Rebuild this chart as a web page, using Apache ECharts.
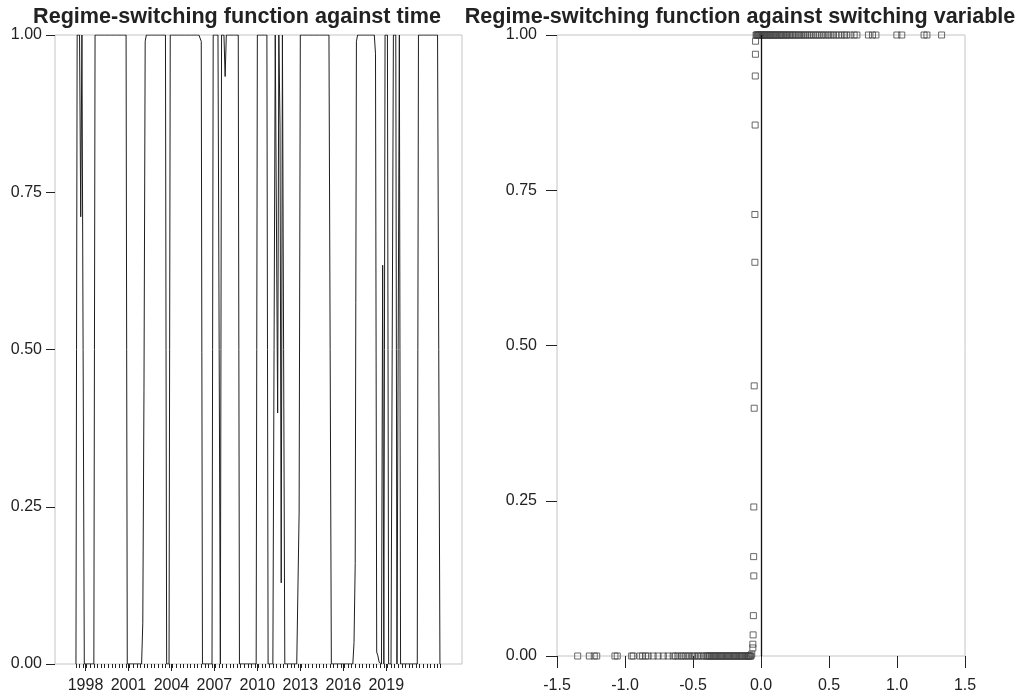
<!DOCTYPE html>
<html>
<head>
<meta charset="utf-8">
<title>Regime-switching function</title>
<script src="https://cdn.jsdelivr.net/npm/echarts@6/dist/echarts.min.js"></script>
<style>
    html, body { margin: 0; padding: 0; background: #fff; }
    #main { width: 1019px; height: 698px; }
</style>
</head>
<body>
<div id="main"></div>
<script>
    // monthly series, first observation 1997M05
    const startYear = 1997;
    const startMonth = 5;

    // regime-switching function G(t), one row per year
    const regimeValues = [
        0, 1, 1, 1, 0.711, 1, 1, 0,                                  // 1997 (May-Dec)
        0, 0, 0, 0, 0, 0, 0, 0, 1, 1, 1, 1,                          // 1998
        1, 1, 1, 1, 1, 1, 1, 1, 1, 1, 1, 1,                          // 1999
        1, 1, 1, 1, 1, 1, 1, 1, 1, 1, 1, 0,                          // 2000
        0, 0, 0, 0, 0, 0, 0, 0, 0, 0, 0, 0,                          // 2001
        0.065, 0.435, 0.99, 1, 1, 1, 1, 1, 1, 1, 1, 1,               // 2002
        1, 1, 1, 1, 1, 1, 1, 1, 0, 0, 0, 1,                          // 2003
        1, 1, 1, 1, 1, 1, 1, 1, 1, 1, 1, 1,                          // 2004
        1, 1, 1, 1, 1, 1, 1, 1, 1, 1, 1, 1,                          // 2005
        1, 0.99, 0, 0, 0, 0, 0, 0, 0, 0, 0, 1,                       // 2006
        1, 1, 1, 1, 1, 0, 1, 1, 1, 0.934, 1, 1,                      // 2007
        1, 1, 1, 1, 1, 1, 1, 1, 1, 0, 0, 0,                          // 2008
        0, 0, 0, 0, 0, 0, 0, 0, 0, 0, 0, 0,                          // 2009
        1, 1, 1, 1, 1, 1, 1, 1, 1, 0, 0, 0,                          // 2010
        0, 0, 0, 1, 1, 0.399, 1, 0.855, 0.129, 1, 1, 0,              // 2011
        0, 0, 0, 0, 0, 0, 0, 0, 0, 0, 0, 0.24,                       // 2012
        1, 1, 1, 1, 1, 1, 1, 1, 1, 1, 1, 1,                          // 2013
        1, 1, 1, 1, 1, 1, 1, 1, 1, 1, 1, 1,                          // 2014
        1, 1, 0, 0, 0, 0, 0, 0, 0, 0, 0, 0,                          // 2015
        0, 0, 0, 0, 0, 0, 0, 0, 0, 0.034, 0.16, 0.99,                // 2016
        1, 1, 1, 1, 1, 1, 1, 1, 1, 1, 1, 1,                          // 2017
        1, 1, 1, 0.97, 0.019, 0.013, 0.003, 0, 0, 0.634, 0, 1,       // 2018
        1, 1, 0, 0, 0, 0, 1, 1, 1, 0, 0, 1,                          // 2019
        0, 0, 0, 0, 0, 0, 0, 0, 0, 0, 0, 0,                          // 2020
        0, 0, 0, 1, 1, 1, 1, 1, 1, 1, 1, 1,                          // 2021
        1, 1, 1, 1, 1, 1, 1, 1, 1, 0                                 // 2022 (Jan-Oct)
    ];

    const yearLabels = [1998, 2001, 2004, 2007, 2010, 2013, 2016, 2019];

    // switching variable vs G, right panel
    const lowRegimeX = [
        -1.348, -1.262, -1.226, -1.208, -1.074, -1.057, -0.951, -0.939,
        -0.890, -0.871, -0.849, -0.830, -0.793, -0.757, -0.718, -0.683,
        -0.646, -0.629, -0.611, -0.588, -0.574, -0.556, -0.538, -0.524,
        -0.503, -0.489, -0.468, -0.457, -0.436, -0.421, -0.404, -0.396,
        -0.384, -0.378, -0.367, -0.361, -0.350, -0.343, -0.332, -0.326,
        -0.315, -0.309, -0.298, -0.291, -0.280, -0.274, -0.263, -0.257,
        -0.246, -0.239, -0.228, -0.222, -0.211, -0.205, -0.194, -0.187,
        -0.177, -0.170, -0.159, -0.153, -0.142, -0.136, -0.125, -0.119,
        -0.108, -0.101, -0.094, -0.089, -0.083, -0.079, -0.074
    ];
    const transitionX = [-0.040, -0.041, -0.042, -0.043, -0.045, -0.045, -0.050, -0.050,
        -0.053, -0.054, -0.053, -0.056, -0.058, -0.060, -0.060, -0.068];
    const transitionY = [0.99, 0.969, 0.934, 0.855, 0.711, 0.634, 0.435, 0.399,
        0.240, 0.160, 0.129, 0.065, 0.034, 0.019, 0.013, 0.003];
    const highRegimeX = [
        -0.036, -0.031, -0.027, -0.022, -0.018, -0.013, -0.009, -0.004,
        0.002, 0.007, 0.013, 0.019, 0.026, 0.032, 0.039, 0.045,
        0.053, 0.060, 0.068, 0.075, 0.083, 0.091, 0.098, 0.107,
        0.115, 0.124, 0.133, 0.141, 0.150, 0.160, 0.169, 0.179,
        0.188, 0.198, 0.209, 0.219, 0.230, 0.241, 0.252, 0.264,
        0.276, 0.288, 0.301, 0.314, 0.327, 0.341, 0.355, 0.368,
        0.384, 0.399, 0.413, 0.428, 0.446, 0.462, 0.478, 0.497,
        0.515, 0.533, 0.552, 0.572, 0.594, 0.613, 0.628, 0.655,
        0.685, 0.705, 0.790, 0.820, 0.845, 0.999, 1.035, 1.199,
        1.220, 1.328
    ];

    // build [time, value] pairs
    const timeData = regimeValues.map(function (v, i) {
        return [startYear + (startMonth - 1 + i) / 12, v];
    });
    const quarterTicks = [];
    for (let i = 0; i < regimeValues.length; i += 3) {
        quarterTicks.push(startYear + (startMonth - 1 + i) / 12);
    }
    quarterTicks.push(startYear + (startMonth - 1 + regimeValues.length - 1) / 12);

    const scatterData = [];
    lowRegimeX.forEach(function (x) { scatterData.push([x, 0]); });
    transitionX.forEach(function (x, i) { scatterData.push([x, transitionY[i]]); });
    highRegimeX.forEach(function (x) { scatterData.push([x, 1]); });

    const font = '"Liberation Sans", Arial, sans-serif';
    const ink = '#222';

    const chart = echarts.init(document.getElementById('main'));
    const option = {
        animation: false,
        backgroundColor: '#fff',
        textStyle: { fontFamily: font },
        title: [
            {
                text: 'Regime-switching function against time',
                left: 237, top: 6, padding: 0, textAlign: 'center',
                textStyle: { fontSize: 21.6, fontWeight: 'bold', color: ink, fontFamily: font }
            },
            {
                text: 'Regime-switching function against switching variable',
                left: 740, top: 6, padding: 0, textAlign: 'center',
                textStyle: { fontSize: 21.6, fontWeight: 'bold', color: ink, fontFamily: font }
            }
        ],
        grid: [
            { left: 55, top: 35, width: 407, height: 629, show: true, borderColor: '#c4c4c4', borderWidth: 1 },
            { left: 557, top: 35, width: 408, height: 621, show: true, borderColor: '#c4c4c4', borderWidth: 1 }
        ],
        xAxis: [
            {
                gridIndex: 0, type: 'value', min: 1995.87, max: 2024.29, position: 'bottom',
                axisLine: { show: false, onZero: false },
                splitLine: { show: false },
                axisTick: { show: true, length: 7, lineStyle: { color: ink }, customValues: yearLabels },
                axisLabel: {
                    customValues: yearLabels, margin: 14, fontSize: 16, color: ink, fontFamily: font,
                    formatter: function (v) { return String(Math.round(v)); }
                }
            },
            {
                gridIndex: 0, type: 'value', min: 1995.87, max: 2024.29, position: 'bottom',
                axisLine: { show: false, onZero: false },
                splitLine: { show: false },
                axisTick: { show: true, length: 4, lineStyle: { color: ink }, customValues: quarterTicks },
                axisLabel: { show: false }
            },
            {
                gridIndex: 1, type: 'value', min: -1.5, max: 1.5, interval: 0.5, position: 'bottom',
                axisLine: { show: false, onZero: false },
                splitLine: { show: false },
                axisTick: { show: true, length: 12, lineStyle: { color: ink } },
                axisLabel: {
                    margin: 22, fontSize: 16, color: ink, fontFamily: font,
                    formatter: function (v) { return v.toFixed(1); }
                }
            }
        ],
        yAxis: [
            {
                gridIndex: 0, type: 'value', min: 0, max: 1, interval: 0.25, position: 'left',
                axisLine: { show: false, onZero: false },
                splitLine: { show: false },
                axisTick: { show: true, length: 9, lineStyle: { color: ink } },
                axisLabel: {
                    margin: 13, fontSize: 16, color: ink, fontFamily: font,
                    formatter: function (v) { return v.toFixed(2); }
                }
            },
            {
                gridIndex: 1, type: 'value', min: 0, max: 1, interval: 0.25, position: 'left',
                axisLine: { show: false, onZero: false },
                splitLine: { show: false },
                axisTick: { show: true, length: 11, lineStyle: { color: ink } },
                axisLabel: {
                    margin: 20, fontSize: 16, color: ink, fontFamily: font,
                    formatter: function (v) { return v.toFixed(2); }
                }
            }
        ],
        series: [
            {
                type: 'line',
                xAxisIndex: 0, yAxisIndex: 0,
                data: timeData,
                showSymbol: false,
                symbol: 'none',
                lineStyle: { color: '#1e1e1e', width: 1 },
                silent: true
            },
            {
                type: 'scatter',
                xAxisIndex: 2, yAxisIndex: 1,
                data: scatterData,
                symbol: 'rect',
                symbolSize: 6,
                itemStyle: { color: 'rgba(255,255,255,0)', borderColor: '#444', borderWidth: 1 },
                silent: true,
                markLine: {
                    silent: true,
                    symbol: 'none',
                    label: { show: false },
                    lineStyle: { color: '#111', width: 1.3, type: 'solid' },
                    data: [{ xAxis: 0 }]
                }
            }
        ]
    };
    chart.setOption(option);
</script>
</body>
</html>
